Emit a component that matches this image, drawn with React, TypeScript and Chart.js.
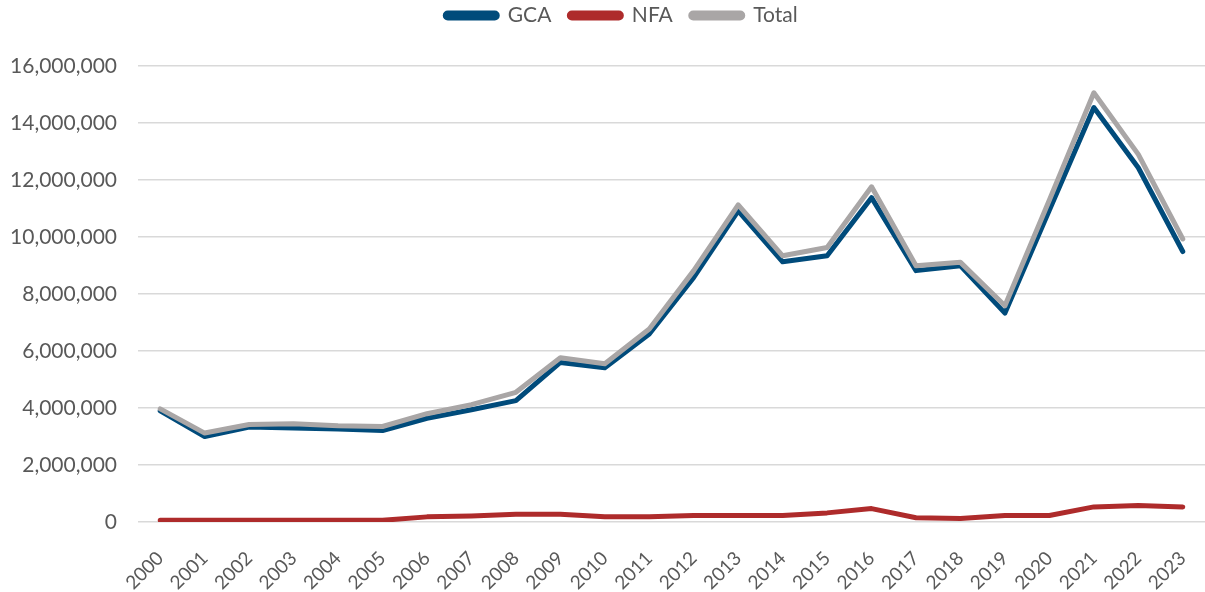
import React, { useEffect, useRef } from "react";
import { Chart, registerables } from "chart.js";

Chart.register(...registerables);

const years = ["2000","2001","2002","2003","2004","2005","2006","2007","2008","2009","2010","2011","2012","2013","2014","2015","2016","2017","2018","2019","2020","2021","2022","2023"];
const gca = [3900000,3000000,3330000,3300000,3260000,3210000,3640000,3940000,4260000,5600000,5410000,6600000,8580000,10920000,9130000,9340000,11380000,8820000,8990000,7330000,10950000,14540000,12430000,9490000];
const nfa = [60000,60000,60000,60000,60000,60000,180000,210000,270000,270000,180000,180000,230000,230000,230000,320000,470000,150000,120000,230000,230000,530000,580000,530000];
const total = [3970000,3120000,3420000,3450000,3380000,3350000,3800000,4120000,4550000,5760000,5550000,6770000,8820000,11130000,9340000,9630000,11760000,8990000,9110000,7590000,11300000,15060000,12900000,9930000];
const yTicks = [0,2000000,4000000,6000000,8000000,10000000,12000000,14000000,16000000];

const FONT = "Lato";
const TEXT = "#595959";

const legendTweak = {
  id: "legendTweak",
  beforeInit(chart: any) {
    const lg = chart.legend;
    if (!lg) return;
    const origFit = lg.fit;
    lg.fit = function () {
      origFit.call(this);
      this.height = 79;
    };
    const origDraw = lg.draw;
    lg.draw = function () {
      const shift = 17;
      this.left += shift;
      this.right += shift;
      origDraw.call(this);
      this.left -= shift;
      this.right -= shift;
    };
  },
};

export default function App() {
  const ref = useRef<HTMLCanvasElement>(null);
  useEffect(() => {
    if (!ref.current) return;
    const chart = new Chart(ref.current, {
      type: "line",
      data: {
        labels: years,
        datasets: [
          { label: "GCA", data: gca, borderColor: "#004B7B", backgroundColor: "#004B7B", borderWidth: 5, pointRadius: 0, order: 3, borderCapStyle: "round", borderJoinStyle: "round" },
          { label: "NFA", data: nfa, borderColor: "#AE2B2B", backgroundColor: "#AE2B2B", borderWidth: 5, pointRadius: 0, order: 2, borderCapStyle: "round", borderJoinStyle: "round" },
          { label: "Total", data: total, borderColor: "#A9A6A6", backgroundColor: "#A9A6A6", borderWidth: 5, pointRadius: 0, order: 1, borderCapStyle: "round", borderJoinStyle: "round" },
        ],
      },
      plugins: [legendTweak],
      options: {
        animation: false,
        responsive: true,
        maintainAspectRatio: false,
        layout: { padding: { top: -13, left: 0, right: -4, bottom: 0 } },
        plugins: {
          tooltip: { enabled: false },
          legend: {
            position: "top",
            labels: {
              sort: (a: any, b: any) => a.datasetIndex - b.datasetIndex,
              boxWidth: 52,
              boxHeight: 5,
              useBorderRadius: true,
              borderRadius: 2.5,
              color: TEXT,
              font: { family: FONT, size: 21 },
              padding: 18,
            },
          },
        },
        scales: {
          x: {
            offset: true,
            grid: { display: false, drawTicks: false },
            border: { display: false },
            ticks: { color: TEXT, font: { family: FONT, size: 19 }, maxRotation: 45, minRotation: 45, autoSkip: false, padding: 25 },
            afterFit: (scale: any) => {
              scale.height = 70;
              scale.paddingLeft = 0;
              scale.paddingRight = -4;
            },
          },
          y: {
            min: 0,
            max: 16000000,
            afterBuildTicks: (axis: any) => { axis.ticks = yTicks.map((v) => ({ value: v })); },
            afterFit: (scale: any) => {
              scale.width = 138;
            },
            grid: { color: "#D9D9D9", lineWidth: 1.5, drawTicks: false },
            border: { display: false },
            ticks: {
              color: TEXT,
              font: { family: FONT, size: 21 },
              padding: 21,
              callback: (v: any) => Number(v).toLocaleString("en-US"),
            },
          },
        },
      },
    });
    return () => chart.destroy();
  }, []);
  return (
    <div style={{ position: "fixed", left: 0, top: 0, width: 1205, height: 592, background: "#fff" }}>
      <canvas ref={ref} />
    </div>
  );
}
